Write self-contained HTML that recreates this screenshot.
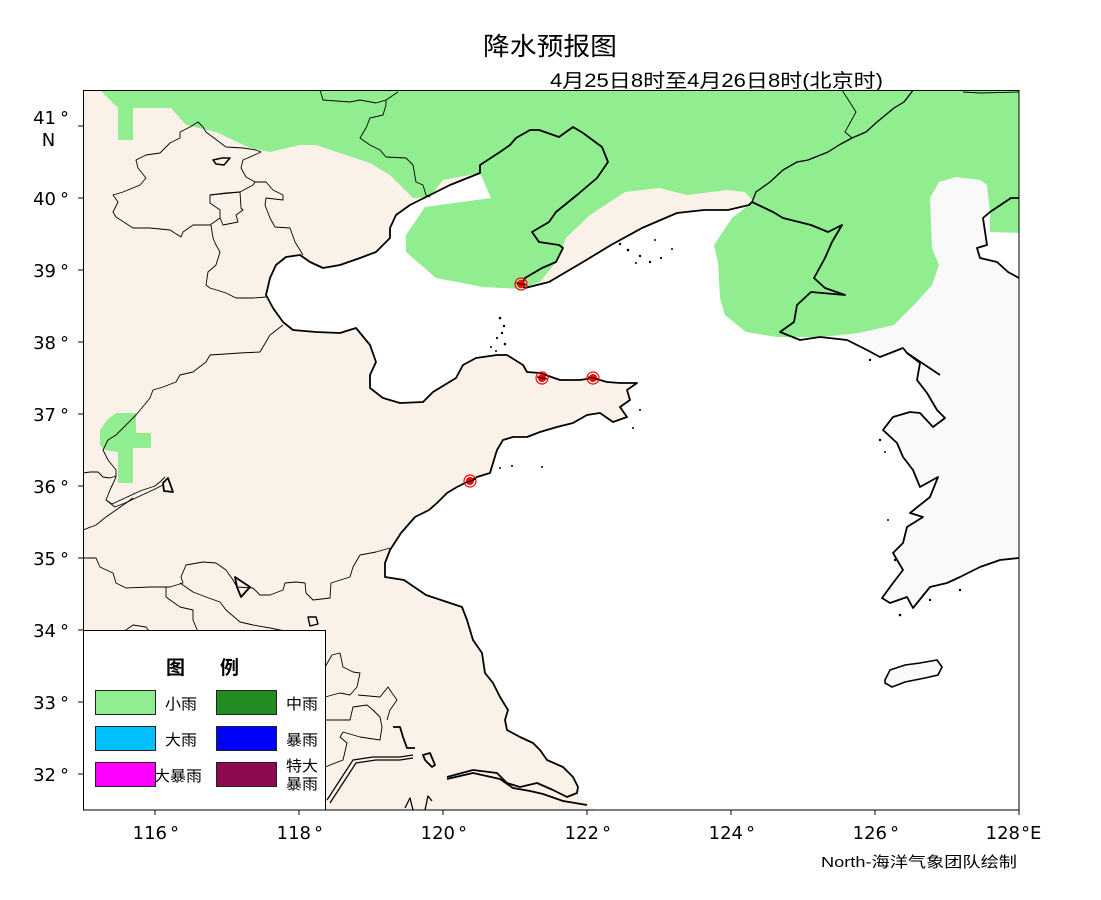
<!DOCTYPE html>
<html><head><meta charset="utf-8"><style>
html,body{margin:0;padding:0;background:#fff;}
svg{display:block;}
.t{font-family:"Liberation Sans","WenQuanYi Zen Hei","Noto Sans CJK SC",sans-serif;fill:#000;}
.tk{font-family:"DejaVu Sans","Liberation Sans",sans-serif;font-size:18px;fill:#000;}
</style></head><body>
<svg width="1101" height="900" viewBox="0 0 1101 900" xmlns="http://www.w3.org/2000/svg">
<defs>
<clipPath id="c"><rect x="83" y="90" width="936" height="720"/></clipPath>
</defs>
<rect x="0" y="0" width="1101" height="900" fill="#fff"/>
<g clip-path="url(#c)">
<rect x="83" y="90" width="936" height="720" fill="#FAF2E8"/>
<!-- sea -->
<path fill="#fff" d="M752,202 749,205 728,210 704,210 677,213 642,228 611,245 583,262 566,272 549,282 525,288 521,285 525,278 542,268 556,262 563,248 559,245 539,242 532,232 549,222 556,212 577,195 597,178 608,162 602,147 583,133 573,127 559,137 539,130 530,130 516,138 510,145 500,152 480,165 480,173 450,185 430,195 410,205 396,215 390,228 390,238 376,252 360,258 340,265 323,268 310,262 300,255 286,257 276,265 270,278 266,295 273,308 283,322 293,330 316,332 340,333 356,328 370,345 376,362 370,375 370,388 383,398 400,403 423,402 433,392 456,378 463,365 476,358 497,355 507,355 523,365 527,372 540,373 560,380 580,380 593,378 607,382 620,383 637,383 627,390 630,400 620,407 627,417 613,422 600,413 587,415 573,423 557,427 540,432 527,437 513,437 503,440 497,450 493,463 490,473 477,477 467,482 457,487 447,493 437,503 429,510 415,517 401,533 390,550 385,563 385,577 404,580 426,595 462,607 467,620 473,640 482,653 485,673 493,683 500,697 508,710 505,720 507,730 520,737 533,743 540,750 547,760 563,767 573,777 578,787 577,793 590,806 596,810 1019,810 1019,90 913,90 911,93 904,102 894,108 877,122 866,132 852,138 839,145 828,152 808,160 797,162 783,170 770,182 756,192 Z"/>
<!-- Korea -->
<path fill="#F9F9F9" d="M752,202 773,212 783,218 811,225 828,232 842,225 832,242 825,258 814,278 825,288 845,295 811,292 797,305 794,322 780,332 800,340 820,337 847,340 867,350 880,357 903,348 907,353 920,363 917,380 927,393 937,410 945,418 933,427 920,413 910,412 893,417 883,430 897,443 903,457 913,470 920,487 938,477 930,497 910,513 923,517 907,527 903,543 893,553 903,570 893,583 882,598 890,603 907,597 913,608 930,587 947,583 960,577 980,567 1000,560 1019,558 1019,278 1008,272 997,262 980,258 977,248 987,245 983,218 990,212 1011,198 1019,198 1019,90 913,90 911,93 904,102 894,108 877,122 866,132 852,138 839,145 828,152 808,160 797,162 783,170 770,182 756,192 Z"/>
<path fill="#F9F9F9" stroke="#000" stroke-width="1.6" d="M885,680 890,670 905,665 920,663 937,660 942,667 938,675 925,678 905,682 892,687 885,683 Z"/>
<!-- green -->
<path fill="#90EE90" d="M100,90 118,108 118,140 133,140 133,108 171,108 186,125 216,132 250,148 270,152 300,145 316,145 370,163 390,175 413,198 430,197 443,180 480,173 491,198 425,207 406,235 406,252 436,278 483,287 521,289 540,282 556,262 566,238 590,215 625,192 659,188 687,195 728,190 745,192 752,200 745,208 732,218 714,245 718,262 720,298 725,315 746,332 777,337 821,337 859,333 894,325 914,305 932,285 939,265 932,248 930,198 939,182 956,177 980,180 987,185 990,212 990,232 1019,233 1019,90 Z"/>
<path fill="#90EE90" d="M100,430 107,420 116,413 136,413 136,433 151,433 151,448 133,448 133,483 118,483 118,452 105,450 100,445 Z"/>
<!-- coastlines -->
<g fill="none" stroke="#000" stroke-width="1.8" stroke-linejoin="round">
<polyline points="752,202 749,205 728,210 704,210 677,213 642,228 611,245 583,262 566,272 549,282 525,288 521,285 525,278 542,268 556,262 563,248 559,245 539,242 532,232 549,222 556,212 577,195 597,178 608,162 602,147 583,133 573,127 559,137 539,130 530,130 516,138 510,145 500,152 480,165 480,173 450,185 430,195 410,205 396,215 390,228 390,238 376,252 360,258 340,265 323,268 310,262 300,255 286,257 276,265 270,278 266,295 273,308 283,322 293,330 316,332 340,333 356,328 370,345 376,362 370,375 370,388 383,398 400,403 423,402 433,392 456,378 463,365 476,358 497,355 507,355 523,365 527,372 540,373 560,380 580,380 593,378 607,382 620,383 637,383 627,390 630,400 620,407 627,417 613,422 600,413 587,415 573,423 557,427 540,432 527,437 513,437 503,440 497,450 493,463 490,473 477,477 467,482 457,487 447,493 437,503 429,510 415,517 401,533 390,550 385,563 385,577 404,580 426,595 462,607 467,620 473,640 482,653 485,673 493,683 500,697 508,710 505,720 507,730 520,737 533,743 540,750 547,760 563,767 573,777 578,787 577,793 567,797 553,790"/>
<polyline points="447,777 473,770 497,773 507,783 520,787 537,783 553,790"/>
<polyline points="447,779 473,773 500,779 513,788 530,791 543,794 563,801 587,805"/>
<polyline points="393,727 400,727 403,737 407,748 415,748"/>
<polyline points="752,202 773,212 783,218 811,225 828,232 842,225 832,242 825,258 814,278 825,288 845,295 811,292 797,305 794,322 780,332 800,340 820,337 847,340 867,350 880,357 903,348 907,353 920,363 917,380 927,393 937,410 945,418 933,427 920,413 910,412 893,417 883,430 897,443 903,457 913,470 920,487 938,477 930,497 910,513 923,517 907,527 903,543 893,553 903,570 893,583 882,598 890,603 907,597 913,608 930,587 947,583 960,577 980,567 1000,560 1019,558"/>
<polyline points="1019,278 1008,272 997,262 980,258 977,248 987,245 983,218 990,212 1011,198 1019,198"/>
<polyline points="907,353 940,375"/>
<path d="M163,483 168,478 173,492 164,491 Z"/>
<path d="M235,577 250,587 241,597 237,587 Z"/>
<path d="M423,755 430,753 435,765 432,767 425,760 Z"/>
</g>
<!-- borders -->
<g fill="none" stroke="#000" stroke-width="0.9" stroke-linejoin="round">
<polyline stroke-width="1.3" points="752,202 756,192 770,182 783,170 797,162 808,160 828,152 839,145 852,138 866,132 877,122 894,108 904,102 911,93 913,90"/>
<polyline points="842,90 856,112 845,132 852,138"/>
<polyline points="963,92 980,93 1019,92"/>
<polyline points="320,90 323,100 350,102 360,100 376,103 386,100 398,92"/>
<polyline points="386,100 386,105 383,115 370,118 366,128 360,138 370,145 380,150 386,157 406,158 413,165 416,182 423,185 426,195 430,197"/>
<path d="M198,122 203,127 206,132 226,147 243,148 256,150 261,152 250,157 243,160 241,168 246,177 255,182 253,185 240,192 226,193 210,195 210,203 220,210 220,218 210,225 193,225 183,232 181,237 170,230 150,228 133,228 116,217 113,212 118,202 113,195 123,192 140,185 146,178 138,168 136,160 146,155 160,153 170,143 180,138 180,132 190,127 Z"/>
<path stroke-width="1.5" d="M213,160 222,158 230,158 224,165 216,164 Z"/>
<polyline points="210,195 240,192 241,208 243,210 236,215 238,222 223,225 220,218"/>
<polyline points="255,182 266,182 273,190 283,195 283,200 266,198 265,205 270,218 275,227 290,228 295,242 303,255"/>
<polyline points="211,225 213,238 216,245 220,252 216,265 208,272 206,285 210,288 226,293 236,298 253,298 266,297"/>
<polyline points="283,325 270,335 260,352 240,353 210,355 206,362 193,372 180,375 176,382 163,387 153,390 150,398 136,415 123,428 116,435 108,440 103,450 108,460 116,470 116,477"/>
<polyline points="83,473 90,472 98,472 103,477 110,478 116,476"/>
<polyline points="116,477 110,490 106,500 112,504 125,498 140,491 155,486 161,481 165,477"/>
<polyline points="106,500 115,507 125,503 140,496 155,489 163,485"/>
<polyline points="83,530 96,525 106,517 116,510 126,503 133,498"/>
<polyline points="83,558 96,558 100,567 113,573 116,583 126,588 150,587 170,587 183,583 181,577 186,565 203,562 216,563 226,570 233,580 237,587 253,588 260,595 270,595 283,590 285,583 296,582 305,583 306,593 313,600 330,598 331,583 350,577 353,567 360,555 376,552 390,548"/>
<polyline points="166,587 166,597 180,607 193,610 193,620 198,632"/>
<polyline points="180,583 193,592 206,597 220,602 226,610 240,622 253,625 270,628 290,632"/>
<path stroke-width="1.4" d="M308,617 316,617 318,624 310,626 Z"/>
<polyline points="123,632 133,625 146,627 150,632"/>
<polyline points="325,667 332,655 340,653 343,667 353,672 360,673 357,687 350,695 340,693 325,697"/>
<polyline points="358,695 380,697 388,687 392,693 397,700 390,710 387,720"/>
<polyline points="325,720 350,720 353,707 367,705 373,710 380,717 382,727 380,740 360,737 343,732 340,737 347,743 343,760 325,767"/>
<polyline stroke-width="1.2" points="327,800 340,780 353,760 373,757 400,757 413,755"/>
<polyline stroke-width="1.2" points="330,803 343,783 356,763 376,760 400,760 413,758"/>
<polyline stroke-width="1.3" points="405,808 410,798 413,810"/>
<polyline stroke-width="1.3" points="425,810 428,796 432,801"/>
</g>
<!-- islands -->
<g fill="#000">
<circle cx="500" cy="318" r="1.3"/><circle cx="504" cy="326" r="1.2"/><circle cx="502" cy="333" r="1.2"/><circle cx="497" cy="338" r="1.1"/><circle cx="505" cy="344" r="1.3"/><circle cx="491" cy="347" r="1"/><circle cx="496" cy="351" r="1"/>
<circle cx="620" cy="244" r="1.2"/><circle cx="628" cy="250" r="1.3"/><circle cx="640" cy="256" r="1.2"/><circle cx="650" cy="262" r="1.2"/><circle cx="661" cy="258" r="1.1"/><circle cx="636" cy="263" r="1"/><circle cx="672" cy="249" r="1"/><circle cx="655" cy="240" r="1"/>
<circle cx="542" cy="467" r="1"/><circle cx="500" cy="468" r="1"/><circle cx="512" cy="466" r="1"/><circle cx="633" cy="428" r="1"/><circle cx="640" cy="410" r="1"/>
<circle cx="870" cy="360" r="1.2"/><circle cx="885" cy="452" r="1"/><circle cx="895" cy="560" r="1.2"/><circle cx="880" cy="440" r="1.2"/><circle cx="888" cy="520" r="1"/><circle cx="900" cy="615" r="1.3"/><circle cx="930" cy="600" r="1.2"/><circle cx="960" cy="590" r="1.2"/>
</g>
<!-- markers -->
<g>
<circle cx="521" cy="284" r="6" fill="none" stroke="#f00" stroke-width="1.2"/><circle cx="521" cy="284" r="4" fill="#f00"/>
<circle cx="542" cy="378" r="6" fill="none" stroke="#f00" stroke-width="1.2"/><circle cx="542" cy="378" r="4" fill="#f00"/>
<circle cx="593" cy="378" r="6" fill="none" stroke="#f00" stroke-width="1.2"/><circle cx="593" cy="378" r="4" fill="#f00"/>
<circle cx="470" cy="481" r="6" fill="none" stroke="#f00" stroke-width="1.2"/><circle cx="470" cy="481" r="4" fill="#f00"/>
</g>
<g fill="none" stroke="#000" stroke-width="1.4">
<polyline points="516,283 526,285"/><polyline points="537,377 547,379"/><polyline points="588,377 598,379"/><polyline points="465,483 476,479"/>
</g>
</g>
<!-- frame -->
<rect x="83.5" y="90.5" width="935.5" height="719.5" fill="none" stroke="#000" stroke-width="1"/>
<!-- ticks -->
<g stroke="#000" stroke-width="1">
<line x1="78" y1="126" x2="83" y2="126"/><line x1="78" y1="198" x2="83" y2="198"/><line x1="78" y1="270" x2="83" y2="270"/><line x1="78" y1="342" x2="83" y2="342"/><line x1="78" y1="414" x2="83" y2="414"/><line x1="78" y1="486" x2="83" y2="486"/><line x1="78" y1="558" x2="83" y2="558"/><line x1="78" y1="630" x2="83" y2="630"/><line x1="78" y1="702" x2="83" y2="702"/><line x1="78" y1="774" x2="83" y2="774"/>
<line x1="155" y1="810" x2="155" y2="815"/><line x1="299" y1="810" x2="299" y2="815"/><line x1="443" y1="810" x2="443" y2="815"/><line x1="587" y1="810" x2="587" y2="815"/><line x1="731" y1="810" x2="731" y2="815"/><line x1="875" y1="810" x2="875" y2="815"/><line x1="1019" y1="810" x2="1019" y2="815"/>
</g>
<!-- lat labels -->
<g class="tk">
<text x="56" y="124" text-anchor="end">41</text><text x="60" y="124">°</text><text x="48.5" y="146" text-anchor="middle">N</text>
<text x="56" y="205" text-anchor="end">40</text><text x="60" y="205">°</text>
<text x="56" y="277" text-anchor="end">39</text><text x="60" y="277">°</text>
<text x="56" y="349" text-anchor="end">38</text><text x="60" y="349">°</text>
<text x="56" y="421" text-anchor="end">37</text><text x="60" y="421">°</text>
<text x="56" y="493" text-anchor="end">36</text><text x="60" y="493">°</text>
<text x="56" y="565" text-anchor="end">35</text><text x="60" y="565">°</text>
<text x="56" y="637" text-anchor="end">34</text><text x="60" y="637">°</text>
<text x="56" y="709" text-anchor="end">33</text><text x="60" y="709">°</text>
<text x="56" y="781" text-anchor="end">32</text><text x="60" y="781">°</text>
</g>
<!-- lon labels -->
<g class="tk">
<text x="167" y="839" text-anchor="end">116</text><text x="170" y="839">°</text>
<text x="311" y="839" text-anchor="end">118</text><text x="314" y="839">°</text>
<text x="455" y="839" text-anchor="end">120</text><text x="458" y="839">°</text>
<text x="599" y="839" text-anchor="end">122</text><text x="602" y="839">°</text>
<text x="743" y="839" text-anchor="end">124</text><text x="746" y="839">°</text>
<text x="887" y="839" text-anchor="end">126</text><text x="890" y="839">°</text>
<text x="1020" y="839" text-anchor="end">128</text><text x="1021" y="839">°</text><text x="1030" y="839">E</text>
</g>
<!-- titles -->
<text class="t" x="483" y="55" font-size="25" textLength="134" lengthAdjust="spacingAndGlyphs">降水预报图</text>
<text class="t" x="550" y="87" font-size="19" textLength="333" lengthAdjust="spacingAndGlyphs">4月25日8时至4月26日8时(北京时)</text>
<text class="t" x="821" y="867" font-size="15" textLength="196" lengthAdjust="spacingAndGlyphs">North-海洋气象团队绘制</text>
<!-- legend -->
<rect x="83.5" y="630.5" width="242" height="179.5" fill="#fff" stroke="#000" stroke-width="1"/>
<text class="t" x="166" y="674" font-size="19" font-weight="bold">图</text>
<text class="t" x="220" y="674" font-size="19" font-weight="bold">例</text>
<g stroke="#222" stroke-width="1">
<rect x="95.5" y="690.5" width="60" height="24" fill="#90EE90"/>
<rect x="216.5" y="690.5" width="60" height="24" fill="#228B22"/>
<rect x="95.5" y="726.5" width="60" height="24" fill="#00BFFF"/>
<rect x="216.5" y="726.5" width="60" height="24" fill="#0000FF"/>
<rect x="95.5" y="762.5" width="60" height="24" fill="#FF00FF"/>
<rect x="216.5" y="762.5" width="60" height="24" fill="#8B0A50"/>
</g>
<text class="t" x="165" y="709" font-size="15" textLength="32" lengthAdjust="spacingAndGlyphs">小雨</text>
<text class="t" x="286" y="709" font-size="15" textLength="32" lengthAdjust="spacingAndGlyphs">中雨</text>
<text class="t" x="165" y="745" font-size="15" textLength="32" lengthAdjust="spacingAndGlyphs">大雨</text>
<text class="t" x="286" y="745" font-size="15" textLength="32" lengthAdjust="spacingAndGlyphs">暴雨</text>
<text class="t" x="154" y="781" font-size="15" textLength="48" lengthAdjust="spacingAndGlyphs">大暴雨</text>
<text class="t" x="286" y="771" font-size="15" textLength="32" lengthAdjust="spacingAndGlyphs">特大</text>
<text class="t" x="286" y="789" font-size="15" textLength="32" lengthAdjust="spacingAndGlyphs">暴雨</text>
</svg>
</body></html>
